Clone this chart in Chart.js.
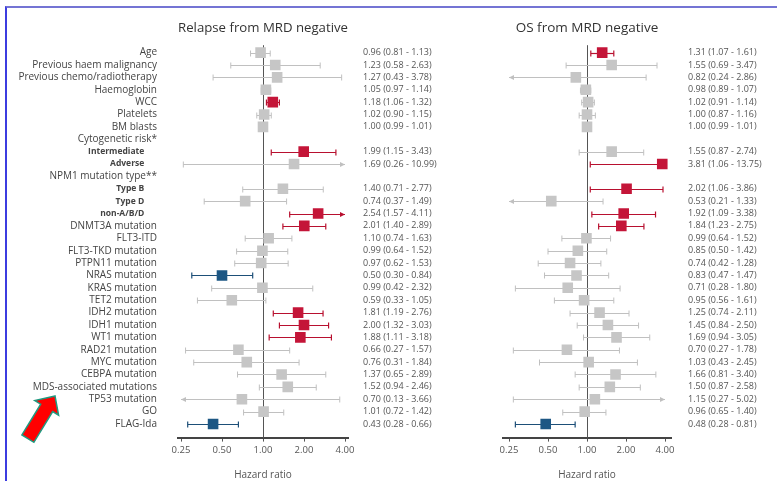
<!DOCTYPE html>
<html><head><meta charset="utf-8">
<script src="https://cdn.jsdelivr.net/npm/chart.js@4/dist/chart.umd.min.js"></script>
<style>
html,body{margin:0;padding:0;background:#fff;}
#wrap{position:relative;width:777px;height:481px;overflow:hidden;background:#fff;}
canvas{position:absolute;left:0;top:0;}
#frame{position:absolute;left:5px;top:6px;width:800px;height:500px;border-top:2px solid #7474d4;border-left:2px solid #3c3ce0;}
svg{position:absolute;left:0;top:0;}
</style></head><body>
<div id="wrap">
<canvas id="c1" width="777" height="481"></canvas>
<canvas id="c2" width="777" height="481"></canvas>
<svg width="777" height="481"><polygon points="55,396 34.8,400.6 40.7,404.2 21.9,434.9 33.9,442.3 52.7,411.6 58.6,415.2" fill="#ff0000" stroke="#1f9a80" stroke-width="1.5" stroke-linejoin="miter"/></svg>
<div id="frame"></div>
</div>
<script>
const rowLabels = ["Age","Previous haem malignancy","Previous chemo/radiotherapy","Haemoglobin","WCC","Platelets","BM blasts","Cytogenetic risk*","Intermediate","Adverse","NPM1 mutation type**","Type B","Type D","non-A/B/D","DNMT3A mutation","FLT3-ITD","FLT3-TKD mutation","PTPN11 mutation","NRAS mutation","KRAS mutation","TET2 mutation","IDH2 mutation","IDH1 mutation","WT1 mutation","RAD21 mutation","MYC mutation","CEBPA mutation","MDS-associated mutations","TP53 mutation","GO","FLAG-Ida"];
const subgroupRows = ["Intermediate","Adverse","Type B","Type D","non-A/B/D"];

const relapseHR = [0.96,1.23,1.27,1.05,1.18,1.02,1.00,null,1.99,1.69,null,1.40,0.74,2.54,2.01,1.10,0.99,0.97,0.50,0.99,0.59,1.81,2.00,1.88,0.66,0.76,1.37,1.52,0.70,1.01,0.43];
const relapseLo = [0.81,0.58,0.43,0.97,1.06,0.90,0.99,null,1.15,0.26,null,0.71,0.37,1.57,1.40,0.74,0.64,0.62,0.30,0.42,0.33,1.19,1.32,1.11,0.27,0.31,0.65,0.94,0.13,0.72,0.28];
const relapseHi = [1.13,2.63,3.78,1.14,1.32,1.15,1.01,null,3.43,10.99,null,2.77,1.49,4.11,2.89,1.63,1.52,1.53,0.84,2.32,1.05,2.76,3.03,3.18,1.57,1.84,2.89,2.46,3.66,1.42,0.66];

const osHR = [1.31,1.55,0.82,0.98,1.02,1.00,1.00,null,1.55,3.81,null,2.02,0.53,1.92,1.84,0.99,0.85,0.74,0.83,0.71,0.95,1.25,1.45,1.69,0.70,1.03,1.66,1.50,1.15,0.96,0.48];
const osLo = [1.07,0.69,0.24,0.89,0.91,0.87,0.99,null,0.87,1.06,null,1.06,0.21,1.09,1.23,0.64,0.50,0.42,0.47,0.28,0.56,0.74,0.84,0.94,0.27,0.43,0.81,0.87,0.27,0.65,0.28];
const osHi = [1.61,3.47,2.86,1.07,1.14,1.16,1.01,null,2.74,13.75,null,3.86,1.33,3.38,2.75,1.52,1.42,1.28,1.47,1.80,1.61,2.11,2.50,3.05,1.78,2.45,3.40,2.58,5.02,1.40,0.81];

const xTicks = [0.25,0.5,1,2,4];
const panelTitles = ["Relapse from MRD negative","OS from MRD negative"];
const axisTitle = "Hazard ratio";

const FONT = "'Open Sans', 'Noto Sans', sans-serif";
const palette = {
  red:{pt:'#c41538', ln:'#b8102f'},
  blue:{pt:'#1d5784', ln:'#1d4f78'},
  grey:{pt:'#c6c6c6', ln:'#c0c0c0'}
};
function tone(lo,hi){ return lo>1 ? 'red' : (hi<1 ? 'blue' : 'grey'); }
function ciText(h,l,u){ return h==null ? '' : `${h.toFixed(2)} (${l.toFixed(2)} - ${u.toFixed(2)})`; }

const ciPlugin = {
  id:'ci',
  beforeDatasetsDraw(chart){
    const o = chart.options.plugins.ci;
    const {ctx, chartArea, scales:{x,y}} = chart;
    const lim0 = xTicks[0], lim1 = xTicks[xTicks.length-1];
    ctx.save();
    const x1 = Math.round(x.getPixelForValue(1)) + 0.5;
    ctx.strokeStyle = '#555'; ctx.lineWidth = 1;
    ctx.beginPath(); ctx.moveTo(x1, chartArea.top); ctx.lineTo(x1, chartArea.bottom); ctx.stroke();
    o.hr.forEach((h,i)=>{
      if(h==null) return;
      const lo=o.lo[i], hi=o.hi[i];
      const c = palette[tone(lo,hi)].ln;
      const a = x.getPixelForValue(Math.max(lo,lim0));
      const b = x.getPixelForValue(Math.min(hi,lim1));
      const py = Math.round(y.getPixelForValue(i)) + 0.5;
      ctx.strokeStyle = c; ctx.fillStyle = c;
      ctx.lineWidth = tone(lo,hi)==='grey' ? 1 : 1.2;
      ctx.beginPath(); ctx.moveTo(a,py); ctx.lineTo(b,py); ctx.stroke();
      const cap = (px)=>{ ctx.beginPath(); ctx.moveTo(px,py-3); ctx.lineTo(px,py+3); ctx.stroke(); };
      const arrow = (px,dir)=>{ ctx.beginPath(); ctx.moveTo(px,py); ctx.lineTo(px-dir*5,py-2.5); ctx.lineTo(px-dir*5,py+2.5); ctx.closePath(); ctx.fill(); };
      if(lo<lim0) arrow(a,-1); else cap(a);
      if(hi>lim1) arrow(b,1); else cap(b);
    });
    ctx.restore();
  }
};

function makeChart(id, panel){
  const isA = panel===0;
  const hr = isA ? relapseHR : osHR, lo = isA ? relapseLo : osLo, hi = isA ? relapseHi : osHi;
  const idx = hr.map((h,i)=>i).filter(i=>hr[i]!=null);
  const area = isA ? {left:178, right:348, perDbl:41} : {left:503, right:671, perDbl:39};
  const extra = ((area.right-area.left) - 4*area.perDbl)/2 / area.perDbl;
  const yCommon = {type:'linear', reverse:true, min:-0.6, max:31.1,
    afterBuildTicks: s=>{ s.ticks = rowLabels.map((_,i)=>({value:i})); },
    grid:{display:false, drawTicks:false}, border:{display:false}};
  return new Chart(document.getElementById(id), {
    type:'scatter',
    data:{datasets:[{
      data: idx.map(i=>({x:hr[i], y:i})),
      backgroundColor: idx.map(i=>palette[tone(lo[i],hi[i])].pt),
      borderWidth:0, pointStyle:'rect', pointRadius:7.5, pointHoverRadius:7.5
    }]},
    plugins:[ciPlugin],
    options:{
      responsive:false, animation:false, devicePixelRatio:1,
      layout:{padding:{top:10, left: isA?0:area.left, right:0, bottom:0}},
      plugins:{
        legend:{display:false}, tooltip:{enabled:false},
        title:{display:true, text:panelTitles[panel], fullSize:false, color:'#333',
          font:{family:FONT, size:13.5, weight:'normal'}, padding:{top:10,bottom:9}},
        ci:{hr, lo, hi}
      },
      scales:{
        x:{type:'logarithmic', min: xTicks[0]*Math.pow(2,-extra), max: xTicks[4]*Math.pow(2,extra),
          afterBuildTicks: s=>{ s.ticks = xTicks.map(v=>({value:v})); },
          afterFit: s=>{ s.height = 481-437.6; },
          ticks:{callback:v=>Number(v).toFixed(2), autoSkip:false, maxRotation:0, color:'#555',
            font:{family:FONT, size:9.5}, padding:3},
          grid:{drawOnChartArea:false, drawTicks:true, tickLength:4, color:'#555'},
          border:{display:true, color:'#444', width:2},
          title:{display:true, text:axisTitle, color:'#555', font:{family:FONT, size:10}, padding:{top:3,bottom:0}}
        },
        y: isA ? Object.assign({}, yCommon, {position:'left',
          afterFit: s=>{ s.width = area.left; },
          ticks:{autoSkip:false, padding:21, color:'#444',
            callback: v => { const t=rowLabels[v]; return subgroupRows.includes(t) ? t+'\u2002\u2002\u2002' : t; },
            font: c => { const t=rowLabels[c.index]; return subgroupRows.includes(t) ? {family:FONT, size:8.5, weight:'bold'} : {family:FONT, size:10}; }}
        }) : Object.assign({}, yCommon, {position:'left', display:false}),
        y2: Object.assign({}, yCommon, {position:'right',
          afterFit: s=>{ s.width = 777-area.right; },
          ticks:{autoSkip:false, padding: isA?15:17, color:'#555', font:{family:FONT, size:9},
            callback: v => ciText(hr[v], lo[v], hi[v])}
        })
      }
    }
  });
}
makeChart('c1',0);
makeChart('c2',1);
</script>
</body></html>
